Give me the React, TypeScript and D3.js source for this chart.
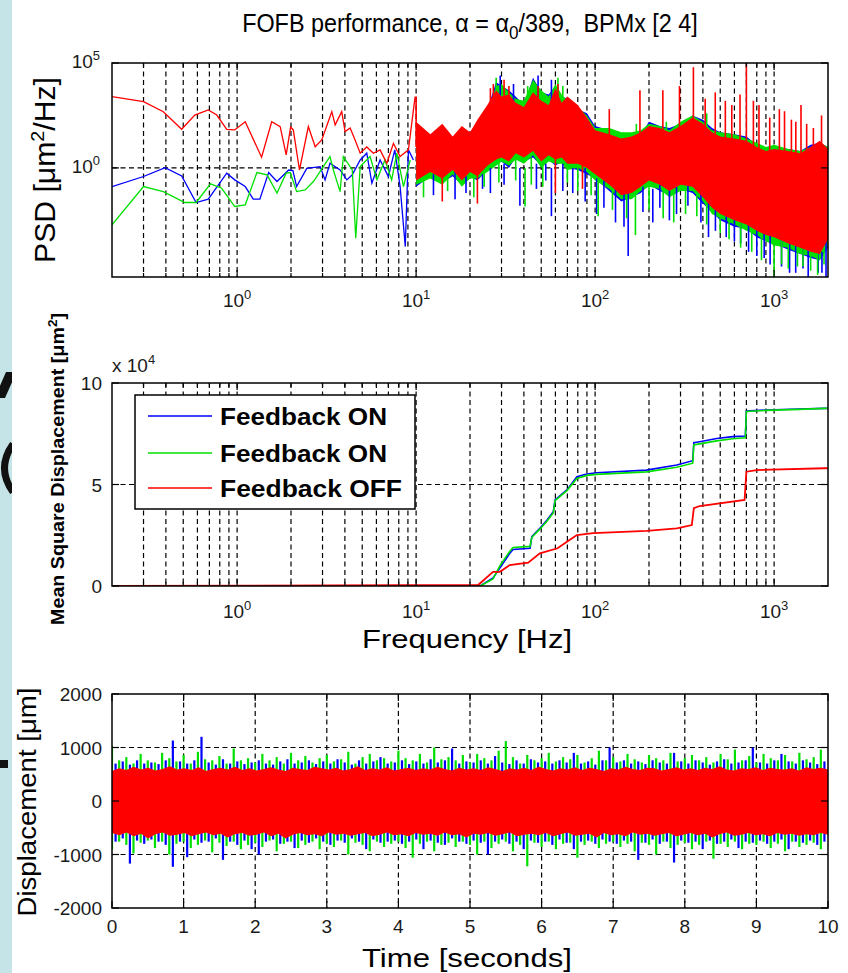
import React from 'react';
import * as d3 from 'd3';

const FONT = '"Liberation Sans", Arial, Helvetica, sans-serif';
const BLUE = '#0000ff';
const GREEN = '#00e000';
const RED = '#ff0000';

// ---------- PSD, low-frequency part (Hz, log10 PSD) ----------
const LF_RED_F = [0.2, 0.3, 0.387, 0.49, 0.58, 0.69, 0.77, 0.875, 0.97, 1.11, 1.37, 1.56, 1.74, 1.88, 1.99, 2.06, 2.23, 2.5, 2.73, 2.97, 3.38, 3.53, 3.84, 4.01, 4.28, 4.56, 4.87, 5.3, 5.77, 6.29, 6.86, 7.47, 8.14, 9.06, 9.87];
const LF_RED_V = [3.4, 3.16, 2.68, 1.84, 2.52, 2.76, 2.52, 1.84, 1.81, 2.2, 0.51, 2.2, 1.97, 0.62, 1.94, 1.81, -0.1, 1.97, 1.01, 1.33, 2.68, 2.05, 2.68, 1.73, 1.9, 1.33, 0.7, 1.0, 0.7, 0.86, 0.22, 1.17, 0.54, 0.86, 3.4];
const LF_BLUE_F = [0.2, 0.3, 0.396, 0.49, 0.59, 0.69, 0.875, 0.97, 1.11, 1.23, 1.34, 1.5, 1.67, 1.94, 2.05, 2.15, 2.45, 2.91, 3.1, 3.3, 3.76, 4.1, 4.4, 4.87, 5.3, 5.66, 6.29, 7.0, 7.6, 8.14, 8.7, 9.06, 9.66];
const LF_BLUE_V = [-0.89, -0.41, 0.01, -0.38, -1.65, -1.49, -0.25, -0.57, -0.89, -1.49, -1.49, -0.22, -0.65, -0.1, -0.13, -0.89, -0.02, 0.06, -0.57, 0.22, -0.1, -0.57, -0.33, 0.38, 0.7, -0.73, 0.38, -0.41, 0.86, -0.89, -3.75, 0.86, 0.38];
const LF_GREEN_F = [0.2, 0.3, 0.387, 0.51, 0.59, 0.71, 0.82, 0.97, 1.11, 1.29, 1.47, 1.67, 1.88, 1.98, 2.15, 2.4, 2.67, 3.3, 3.45, 3.76, 3.92, 4.4, 4.6, 4.87, 5.53, 6.04, 6.7, 7.3, 7.8, 8.5, 9.27];
const LF_GREEN_V = [-2.71, -0.89, -1.13, -1.65, -1.65, -0.76, -0.97, -1.84, -1.76, -0.22, -0.33, -1.2, -0.25, -0.22, -1.13, -1.05, -0.65, 0.54, -0.1, -1.13, 0.54, -0.1, -3.35, 0.06, 0.54, -0.57, 0.38, -0.57, 0.7, -0.89, 0.38];

// ---------- PSD, dense part: envelopes (Hz, log10 PSD) ----------
const HF_F = [10, 12, 14, 16, 18, 20, 22, 25, 28, 30, 33, 36, 40, 45, 50, 55, 60, 65, 70, 80, 90, 100, 120, 140, 160, 180, 200, 230, 260, 300, 350, 400, 450, 500, 600, 700, 800, 900, 1000, 1200, 1400, 1600, 1800, 2000];
const HF_RED_UP = [2.2, 1.6, 2.1, 1.5, 2.0, 1.7, 2.3, 3.0, 3.7, 3.4, 3.5, 3.1, 2.9, 3.6, 3.2, 3.0, 3.8, 3.1, 3.4, 3.0, 2.4, 1.8, 1.6, 1.4, 1.5, 1.7, 2.0, 1.9, 1.7, 2.0, 2.4, 2.1, 1.7, 1.5, 1.4, 1.3, 1.0, 0.8, 0.9, 0.8, 0.7, 1.0, 1.3, 0.9];
const HF_RED_LO = [-0.6, -0.2, -0.5, -0.1, -0.6, -0.2, -0.4, 0.1, 0.4, 0.5, 0.3, 0.7, 0.5, 0.8, 0.3, 0.6, 0.4, 0.5, 0.2, 0.2, 0.0, -0.3, -0.8, -1.3, -1.2, -0.9, -0.6, -0.8, -1.1, -0.8, -0.9, -1.4, -1.9, -2.2, -2.5, -2.7, -3.0, -3.2, -3.3, -3.6, -3.8, -4.0, -4.1, -3.4];
const HF_BLUE_UP = [1.8, 1.2, 1.5, 1.4, 1.3, 1.5, 2.0, 2.8, 4.1, 3.9, 3.7, 3.4, 3.0, 4.3, 3.6, 3.5, 3.9, 3.4, 3.3, 2.8, 2.6, 2.0, 1.8, 1.6, 1.6, 1.6, 2.2, 2.0, 1.9, 2.1, 2.5, 2.3, 1.9, 1.7, 1.6, 1.5, 1.1, 0.9, 1.0, 0.9, 0.8, 1.1, 1.2, 1.0];
const HF_BLUE_LO = [-0.9, -0.4, -0.7, -0.4, -0.8, -0.4, -0.6, -0.1, 0.2, 0.3, 0.0, 0.5, 0.3, 0.5, 0.1, 0.4, 0.1, 0.3, 0.0, -0.1, -0.3, -0.5, -1.1, -1.6, -1.4, -1.2, -0.8, -1.1, -1.3, -1.0, -1.2, -1.7, -2.1, -2.5, -2.8, -2.9, -3.3, -3.5, -3.6, -3.9, -4.1, -4.3, -4.4, -3.8];
const HF_GREEN_UP = [1.6, 1.4, 1.8, 1.2, 1.5, 1.3, 2.2, 2.6, 3.9, 4.0, 3.6, 3.3, 3.2, 4.2, 3.7, 3.4, 4.0, 3.5, 3.2, 2.9, 2.5, 1.9, 1.9, 1.7, 1.7, 1.8, 2.1, 2.0, 1.8, 2.2, 2.5, 2.2, 1.8, 1.7, 1.6, 1.4, 1.2, 1.0, 1.1, 0.9, 0.8, 1.0, 1.2, 1.0];
const HF_GREEN_LO = [-0.8, -0.5, -0.8, -0.3, -0.9, -0.5, -0.5, -0.2, 0.1, 0.3, 0.1, 0.4, 0.2, 0.6, 0.0, 0.3, 0.2, 0.2, -0.1, 0.0, -0.2, -0.6, -1.0, -1.5, -1.5, -1.1, -0.9, -1.0, -1.4, -1.1, -1.1, -1.6, -2.2, -2.4, -2.7, -3.0, -3.2, -3.5, -3.7, -3.8, -4.1, -4.2, -4.4, -3.7];

// spikes: [frequency, base, tip] in log10 PSD
const SPIKES_RED = [[10, 1.0, 3.4], [26, 2.5, 3.8], [27, 2.0, 4.0], [31, 3.0, 4.2], [33, 2.0, 3.9], [48, 3.0, 3.9], [62, 3.0, 4.0], [14, 0.0, -1.6], [22, 0.0, -1.7], [120, 0.5, 2.8], [178, 0.5, 3.7], [239, 0.5, 3.7], [296, 0.5, 3.9], [354, 0.5, 4.8], [412, 0.5, 3.3], [469, 0.5, 3.6], [534, 0.0, 3.2], [580, 0.0, 3.0], [645, 0.0, 3.5], [700, 0.0, 5.3], [766, 0.0, 3.2], [823, 0.0, 3.0], [945, 0.0, 2.4], [1070, 0.0, 2.8], [1143, 0.0, 2.7], [1249, 0.0, 2.3], [1322, 0.0, 2.2], [1413, 0.0, 3.0], [1520, 0.0, 2.1], [1657, 0.0, 1.9], [1840, 0.0, 2.5], [60, 1.0, -1.2], [85, 1.0, -1.0]];
const SPIKES_BLUE = [[29.5, 3.0, 4.4], [35, 3.0, 4.0], [48, 3.0, 4.4], [57, 3.0, 4.2], [12.5, -0.3, -1.3], [16.5, -0.2, -1.5], [19, -0.4, -1.2], [23.5, -0.3, -1.0], [26, 0.0, -1.2], [31, 0.2, -0.8], [38, 0.0, -1.8], [47, 0.2, -1.0], [53, 0.2, -0.6], [57, 0.0, -2.3], [66, 0.2, -1.1], [75, 0.0, -1.2], [88, 0.0, -1.6], [102, -0.5, -2.2], [112, -0.6, -1.9], [130, -1.0, -2.6], [145, -1.2, -2.8], [153, -1.0, -4.2], [185, -0.9, -2.1], [210, -1.0, -2.6], [230, -0.8, -1.9], [260, -1.0, -2.5], [285, -0.9, -2.2], [330, -0.8, -1.8], [390, -1.0, -2.6], [430, -1.5, -3.3], [470, -1.9, -3.0], [540, -2.2, -3.3], [600, -2.0, -3.5], [650, -2.6, -3.6], [720, -2.0, -4.0], [800, -2.9, -4.2], [880, -3.0, -4.3], [950, -3.2, -4.6], [1100, -3.4, -4.7], [1220, -3.0, -5.0], [1320, -3.7, -5.0], [1450, -3.0, -4.8], [1550, -3.9, -5.2], [1762, -3.0, -5.0], [1850, -4.0, -5.0], [1950, -3.0, -5.2]];
const SPIKES_GREEN = [[28, 3.5, 4.3], [42, 3.0, 3.9], [62, 3.0, 4.3], [66, 3.0, 3.9], [170, 1.5, 2.1], [250, 1.5, 2.2], [420, 2.0, 2.6], [11, -0.4, -1.4], [15, -0.2, -1.1], [21, -0.2, -1.4], [24, -0.2, -0.9], [29, 0.3, -0.7], [36, 0.5, -0.6], [40.6, 0.0, -1.84], [44, 0.5, -0.8], [51, 0.2, -0.9], [70, 0.1, -0.7], [80, 0.1, -1.1], [95, -0.1, -1.3], [104, -0.5, -2.3], [125, -0.8, -2.0], [150, -1.2, -2.4], [168, -1.0, -3.2], [200, -0.6, -2.0], [240, -1.0, -2.4], [275, -1.0, -2.6], [320, -1.0, -2.2], [370, -0.9, -2.3], [420, -1.4, -2.7], [500, -2.0, -3.1], [560, -2.3, -3.4], [650, -2.0, -3.8], [750, -2.8, -4.0], [850, -3.0, -4.4], [1000, -3.0, -5.3], [1100, -3.0, -4.6], [1200, -3.6, -4.8], [1350, -3.0, -4.7], [1450, -3.8, -4.7], [1600, -3.0, -4.9], [1750, -4.0, -5.1], [1900, -3.0, -4.6]];

// ---------- Mean square displacement (Hz, x 10^4 um^2) ----------
const MSD_BLUE_F = [0.2, 22.8, 26.9, 29.4, 33.3, 34.8, 43.3, 44.3, 49.1, 53.9, 58.4, 59.7, 69.6, 79.1, 90, 102, 194, 286, 351, 356, 384, 478, 586, 691, 700, 903, 1379, 1910, 2000];
const MSD_BLUE_V = [0, 0, 0.4, 0.9, 1.6, 1.8, 1.86, 2.43, 2.84, 3.25, 3.66, 4.24, 4.73, 5.38, 5.52, 5.58, 5.71, 5.96, 6.17, 7.06, 7.11, 7.27, 7.36, 7.39, 8.62, 8.67, 8.72, 8.75, 8.75];
const MSD_GREEN_F = [0.2, 22.8, 26.9, 29.4, 33.3, 34.8, 43.3, 44.3, 49.1, 53.9, 58.4, 59.7, 69.6, 79.1, 90, 102, 194, 286, 351, 356, 384, 478, 586, 691, 700, 903, 1379, 1910, 2000];
const MSD_GREEN_V = [0, 0, 0.35, 1.0, 1.7, 1.9, 1.95, 2.4, 2.8, 3.2, 3.6, 4.2, 4.7, 5.3, 5.45, 5.5, 5.62, 5.85, 6.05, 6.95, 7.0, 7.15, 7.25, 7.3, 8.6, 8.65, 8.7, 8.75, 8.75];
const MSD_RED_F = [0.2, 22.2, 26.9, 29.4, 33.3, 42.3, 49.1, 61.7, 69.6, 79.1, 97.6, 194, 286, 347, 356, 384, 684, 700, 799, 1910, 2000];
const MSD_RED_V = [0, 0.05, 0.7, 0.7, 1.03, 1.15, 1.61, 1.86, 2.18, 2.51, 2.6, 2.72, 2.84, 3.0, 3.83, 3.94, 4.24, 5.63, 5.71, 5.8, 5.8];

// ---------- Time-domain displacement, envelopes every 0.1 s (um) ----------
const T_BLUE_HI = [700, 740, 680, 760, 700, 720, 690, 760, 1130, 740, 700, 760, 1200, 720, 680, 780, 700, 740, 690, 720, 760, 700, 680, 740, 780, 700, 720, 760, 690, 740, 700, 780, 720, 680, 760, 700, 740, 820, 700, 720, 760, 690, 740, 700, 780, 720, 760, 980, 700, 740, 720, 760, 700, 840, 720, 690, 760, 700, 780, 720, 740, 700, 760, 720, 900, 700, 740, 680, 760, 1000, 720, 760, 700, 740, 690, 760, 720, 700, 900, 740, 700, 760, 720, 680, 740, 780, 700, 720, 760, 1000, 720, 700, 760, 880, 740, 700, 760, 720, 690, 740];
const T_BLUE_LO = [-760, -700, -1170, -740, -800, -720, -760, -820, -1230, -760, -1050, -720, -780, -760, -700, -1100, -760, -820, -740, -900, -1000, -760, -720, -800, -760, -880, -740, -780, -700, -760, -820, -740, -780, -700, -760, -900, -720, -780, -760, -740, -800, -760, -720, -900, -740, -780, -820, -700, -760, -800, -740, -780, -1000, -760, -720, -800, -760, -900, -740, -780, -760, -820, -720, -780, -900, -760, -740, -800, -720, -760, -800, -740, -760, -1100, -780, -720, -800, -760, -1150, -740, -780, -760, -900, -740, -800, -760, -720, -880, -760, -780, -740, -800, -760, -720, -900, -760, -780, -740, -820, -760];
const T_GREEN_HI = [1030, 760, 820, 700, 880, 760, 720, 900, 800, 740, 860, 700, 920, 780, 760, 840, 700, 980, 760, 800, 720, 880, 760, 820, 700, 900, 760, 840, 720, 800, 860, 740, 780, 920, 700, 820, 880, 760, 800, 740, 940, 800, 760, 880, 720, 1000, 780, 820, 760, 860, 720, 880, 800, 760, 940, 1120, 820, 700, 860, 760, 800, 900, 740, 820, 780, 860, 720, 800, 940, 760, 820, 740, 880, 780, 720, 860, 800, 760, 900, 740, 800, 860, 760, 820, 720, 880, 780, 960, 760, 840, 720, 880, 800, 760, 860, 740, 900, 780, 820, 960];
const T_GREEN_LO = [-900, -760, -820, -980, -780, -740, -880, -760, -1000, -800, -760, -880, -820, -740, -960, -780, -840, -760, -900, -820, -780, -860, -740, -940, -800, -760, -880, -820, -760, -900, -800, -860, -740, -1000, -780, -820, -940, -760, -860, -800, -760, -880, -1060, -800, -760, -940, -820, -780, -860, -760, -820, -1000, -760, -880, -800, -760, -940, -820, -1220, -780, -860, -760, -900, -800, -780, -1060, -820, -760, -880, -800, -760, -860, -800, -940, -780, -820, -1000, -760, -880, -820, -780, -900, -820, -760, -1080, -800, -860, -760, -900, -800, -820, -760, -880, -800, -940, -760, -860, -820, -780, -900];
const T_RED_HI = [560, 610, 580, 640, 590, 620, 570, 600, 650, 590, 610, 580, 630, 560, 600, 620, 590, 640, 580, 610, 570, 600, 630, 590, 560, 620, 600, 580, 640, 610, 590, 620, 570, 600, 650, 580, 610, 590, 630, 570, 600, 620, 580, 610, 590, 640, 600, 570, 620, 590, 610, 580, 630, 600, 560, 610, 590, 620, 580, 640, 600, 570, 610, 590, 630, 580, 620, 600, 560, 610, 590, 640, 600, 580, 620, 610, 570, 600, 630, 590, 610, 580, 620, 600, 650, 590, 570, 610, 600, 630, 580, 620, 600, 590, 610, 570, 630, 600, 620, 590];
const T_RED_LO = [-600, -640, -590, -660, -610, -700, -620, -590, -650, -630, -600, -660, -620, -590, -640, -610, -680, -620, -600, -650, -630, -590, -660, -610, -700, -630, -600, -640, -620, -660, -590, -630, -610, -650, -620, -600, -660, -630, -590, -640, -620, -660, -600, -630, -610, -650, -590, -640, -620, -680, -610, -630, -600, -650, -620, -590, -660, -630, -610, -640, -600, -660, -620, -590, -650, -630, -610, -680, -600, -640, -620, -660, -590, -630, -610, -650, -620, -600, -660, -630, -600, -640, -610, -680, -620, -590, -650, -630, -600, -640, -620, -660, -600, -630, -610, -650, -620, -640, -600, -630];

const LOG_MAJOR = [1, 10, 100, 1000];
const LOG_MAJOR_EXP = ['0', '1', '2', '3'];
const PSD_Y_TICKS = [1, 1e5];
const PSD_Y_EXP = ['0', '5'];
const MSD_Y_TICKS = [0, 5, 10];
const TIME_X_TICKS = [0, 1, 2, 3, 4, 5, 6, 7, 8, 9, 10];
const DISP_Y_TICKS = [-2000, -1000, 0, 1000, 2000];
const LEGEND_LABELS = ['Feedback ON', 'Feedback ON', 'Feedback OFF'];
const LEGEND_COLORS = [BLUE, GREEN, RED];

// ---------- layout ----------
const X0 = 112, X1 = 828;
const TOP = { y0: 63, y1: 277 };
const MID = { y0: 383, y1: 586 };
const BOT = { y0: 694, y1: 908 };

const xF = d3.scaleLog().domain([0.2, 2000]).range([X0, X1]);
const yP = d3.scaleLog().domain([Math.pow(10, -5.2), 1e5]).range([TOP.y1, TOP.y0]);
const yM = d3.scaleLinear().domain([0, 10]).range([MID.y1, MID.y0]);
const xT = d3.scaleLinear().domain([0, 10]).range([X0, X1]);
const yT = d3.scaleLinear().domain([-2000, 2000]).range([BOT.y1, BOT.y0]);

const LOG_GRID: number[] = [];
[0.1, 1, 10, 100, 1000].forEach((d) => {
  for (let k = 1; k <= 9; k++) {
    const v = +(k * d).toPrecision(3);
    if (v > 0.2001 && v < 1999) LOG_GRID.push(v);
  }
});

const DASH = '5,3.5';
const TICK_COLOR = '#1a1a1a';

function lineF(F: number[], V: number[]) {
  const pts = F.map((f, i) => [xF(f), yP(Math.pow(10, V[i]))] as [number, number]);
  return d3.line()(pts) || '';
}
function bandF(F: number[], LO: number[], UP: number[]) {
  const a = d3
    .area<number>()
    .x((_, i) => xF(F[i]))
    .y0((_, i) => yP(Math.pow(10, LO[i])))
    .y1((_, i) => yP(Math.pow(10, UP[i])));
  return a(F) || '';
}
function msdLine(F: number[], V: number[]) {
  return d3.line()(F.map((f, i) => [xF(f), yM(V[i])] as [number, number])) || '';
}

function LogXAxis({ y0, y1, labelY }: { y0: number; y1: number; labelY: number }) {
  return (
    <g>
      {LOG_GRID.map((v) => {
        const isMajor = LOG_MAJOR.includes(v);
        const x = xF(v);
        const len = isMajor ? 7 : 4;
        return (
          <g key={v}>
            <line x1={x} x2={x} y1={y1} y2={y1 - len} stroke="#000" strokeWidth={1.2} />
            <line x1={x} x2={x} y1={y0} y2={y0 + len} stroke="#000" strokeWidth={1.2} />
          </g>
        );
      })}
      {LOG_MAJOR.map((v, i) => (
        <text key={v} x={xF(v)} y={labelY} textAnchor="middle" fontSize={19} fill={TICK_COLOR}>
          10<tspan dy={-8} fontSize={13}>{LOG_MAJOR_EXP[i]}</tspan>
        </text>
      ))}
    </g>
  );
}

function LogGrid({ y0, y1 }: { y0: number; y1: number }) {
  return (
    <g>
      {LOG_GRID.map((v) => (
        <line key={v} x1={xF(v)} x2={xF(v)} y1={y0} y2={y1} stroke="#000" strokeWidth={1.2} strokeDasharray={DASH} />
      ))}
    </g>
  );
}

export default function App() {
  const tRed = T_RED_HI.map((_, i) => (i * 10) / (T_RED_HI.length - 1));
  const tBlue = T_BLUE_HI.map((_, i) => 0.05 + i * 0.1);
  const tGreen = T_GREEN_HI.map((_, i) => 0.0 + i * 0.1);
  const redArea =
    d3
      .area<number>()
      .x((t) => xT(t))
      .y0((_, i) => yT(T_RED_LO[i]))
      .y1((_, i) => yT(T_RED_HI[i]))(tRed) || '';

  return (
    <svg width={848} height={973} style={{ display: 'block', position: 'absolute', left: 0, top: 0, fontFamily: FONT }}>
      <defs>
        <clipPath id="cTop"><rect x={X0} y={TOP.y0} width={X1 - X0} height={TOP.y1 - TOP.y0} /></clipPath>
        <clipPath id="cMid"><rect x={X0} y={MID.y0} width={X1 - X0} height={MID.y1 - MID.y0} /></clipPath>
        <clipPath id="cBot"><rect x={X0} y={BOT.y0} width={X1 - X0} height={BOT.y1 - BOT.y0} /></clipPath>
        <clipPath id="cStrip"><rect x={0} y={0} width={12} height={973} /></clipPath>
      </defs>
      <rect x={0} y={0} width={848} height={973} fill="#ffffff" />
      {/* slide strip on the left */}
      <rect x={0} y={0} width={12} height={973} fill="#c5e4e8" />
      <g clipPath="url(#cStrip)" fill="#111">
        <polygon points="6,372 13,372 13,380 5,398 -1,398 -1,388" />
        <path d="M13,444 Q-4,468 13,492" fill="none" stroke="#111" strokeWidth={7} />
        <rect x={0} y={760} width={8} height={8} />
      </g>

      {/* Title */}
      <g transform="translate(470,32) scale(0.9,1)">
        <text x={0} y={0} textAnchor="middle" fontSize={26} xmlSpace="preserve" style={{ whiteSpace: 'pre' }}>
          FOFB performance, α = α<tspan dy={7} fontSize={19}>0</tspan><tspan dy={-7}>/389,  BPMx [2 4]</tspan>
        </text>
      </g>

      {/* ================= TOP: PSD ================= */}
      <rect x={X0} y={TOP.y0} width={X1 - X0} height={TOP.y1 - TOP.y0} fill="#fff" />
      <LogGrid y0={TOP.y0} y1={TOP.y1} />
      <line x1={X0} x2={X1} y1={yP(1)} y2={yP(1)} stroke="#000" strokeWidth={1.2} strokeDasharray={DASH} />
      <g clipPath="url(#cTop)">
        <path d={bandF(HF_F, HF_BLUE_LO, HF_BLUE_UP)} fill={BLUE} />
        <path d={bandF(HF_F, HF_GREEN_LO, HF_GREEN_UP)} fill={GREEN} />
        {SPIKES_BLUE.map((s, i) => (
          <line key={'sb' + i} x1={xF(s[0])} x2={xF(s[0])} y1={yP(Math.pow(10, s[1]))} y2={yP(Math.pow(10, s[2]))} stroke={BLUE} strokeWidth={1.6} />
        ))}
        {SPIKES_GREEN.map((s, i) => (
          <line key={'sg' + i} x1={xF(s[0])} x2={xF(s[0])} y1={yP(Math.pow(10, s[1]))} y2={yP(Math.pow(10, s[2]))} stroke={GREEN} strokeWidth={1.6} />
        ))}
        <path d={lineF(LF_BLUE_F, LF_BLUE_V)} fill="none" stroke={BLUE} strokeWidth={1.3} />
        <path d={lineF(LF_GREEN_F, LF_GREEN_V)} fill="none" stroke={GREEN} strokeWidth={1.3} />
        <path d={bandF(HF_F, HF_RED_LO, HF_RED_UP)} fill={RED} />
        {SPIKES_RED.map((s, i) => (
          <line key={'sr' + i} x1={xF(s[0])} x2={xF(s[0])} y1={yP(Math.pow(10, s[1]))} y2={yP(Math.pow(10, s[2]))} stroke={RED} strokeWidth={1.6} />
        ))}
        <path d={lineF(LF_RED_F, LF_RED_V)} fill="none" stroke={RED} strokeWidth={1.3} />
      </g>
      <rect x={X0} y={TOP.y0} width={X1 - X0} height={TOP.y1 - TOP.y0} fill="none" stroke="#000" strokeWidth={1.5} />
      <LogXAxis y0={TOP.y0} y1={TOP.y1} labelY={307} />
      {PSD_Y_TICKS.map((v, i) => (
        <g key={v}>
          <line x1={X0} x2={X0 + 7} y1={yP(v)} y2={yP(v)} stroke="#000" strokeWidth={1.2} />
          <line x1={X1} x2={X1 - 7} y1={yP(v)} y2={yP(v)} stroke="#000" strokeWidth={1.2} />
          <text x={100} y={yP(v) + 5} textAnchor="end" fontSize={19} fill={TICK_COLOR}>
            10<tspan dy={-8} fontSize={13}>{PSD_Y_EXP[i]}</tspan>
          </text>
        </g>
      ))}
      <text transform="translate(55,170) rotate(-90)" textAnchor="middle" fontSize={29} textLength={186} lengthAdjust="spacingAndGlyphs">
        PSD [μm<tspan dy={-11} fontSize={19}>2</tspan><tspan dy={11}>/Hz]</tspan>
      </text>

      {/* ================= MIDDLE: MSD ================= */}
      <rect x={X0} y={MID.y0} width={X1 - X0} height={MID.y1 - MID.y0} fill="#fff" />
      <LogGrid y0={MID.y0} y1={MID.y1} />
      <line x1={X0} x2={X1} y1={yM(5)} y2={yM(5)} stroke="#000" strokeWidth={1.2} strokeDasharray={DASH} />
      <g clipPath="url(#cMid)">
        <path d={msdLine(MSD_BLUE_F, MSD_BLUE_V)} fill="none" stroke={BLUE} strokeWidth={1.6} />
        <path d={msdLine(MSD_GREEN_F, MSD_GREEN_V)} fill="none" stroke={GREEN} strokeWidth={1.6} />
        <path d={msdLine(MSD_RED_F, MSD_RED_V)} fill="none" stroke={RED} strokeWidth={1.8} />
      </g>
      <rect x={X0} y={MID.y0} width={X1 - X0} height={MID.y1 - MID.y0} fill="none" stroke="#000" strokeWidth={1.5} />
      <LogXAxis y0={MID.y0} y1={MID.y1} labelY={618} />
      {MSD_Y_TICKS.map((v) => (
        <g key={v}>
          <line x1={X0} x2={X0 + 7} y1={yM(v)} y2={yM(v)} stroke="#000" strokeWidth={1.2} />
          <line x1={X1} x2={X1 - 7} y1={yM(v)} y2={yM(v)} stroke="#000" strokeWidth={1.2} />
          <text x={102} y={yM(v) + 7} textAnchor="end" fontSize={19} fill={TICK_COLOR}>{v}</text>
        </g>
      ))}
      <text x={112} y={372} fontSize={19} fill={TICK_COLOR} xmlSpace="preserve" style={{ whiteSpace: 'pre' }}>
        x 10<tspan dy={-8} fontSize={13}>4</tspan>
      </text>
      {/* legend */}
      <rect x={135} y={395} width={280} height={114} fill="#fff" stroke="#000" strokeWidth={1.5} />
      {LEGEND_LABELS.map((lab, i) => {
        const ly = [416, 453, 488][i];
        return (
          <g key={i}>
            <line x1={148} x2={212} y1={ly} y2={ly} stroke={LEGEND_COLORS[i]} strokeWidth={1.5} />
            <text x={220} y={ly + 9} fontSize={23} fontWeight="bold" textLength={i === 2 ? 182 : 167} lengthAdjust="spacingAndGlyphs">{lab}</text>
          </g>
        );
      })}
      <text transform="translate(64,469) rotate(-90)" textAnchor="middle" fontSize={19} fontWeight="bold" textLength={312} lengthAdjust="spacingAndGlyphs">
        Mean Square Displacement [μm<tspan dy={-7} fontSize={13}>2</tspan><tspan dy={7}>]</tspan>
      </text>
      <text x={467} y={648} textAnchor="middle" fontSize={25} textLength={210} lengthAdjust="spacingAndGlyphs">Frequency [Hz]</text>

      {/* ================= BOTTOM: time ================= */}
      <rect x={X0} y={BOT.y0} width={X1 - X0} height={BOT.y1 - BOT.y0} fill="#fff" />
      {TIME_X_TICKS.slice(1, -1).map((v) => (
        <line key={v} x1={xT(v)} x2={xT(v)} y1={BOT.y0} y2={BOT.y1} stroke="#000" strokeWidth={1.2} strokeDasharray={DASH} />
      ))}
      {DISP_Y_TICKS.slice(1, -1).map((v) => (
        <line key={v} x1={X0} x2={X1} y1={yT(v)} y2={yT(v)} stroke="#000" strokeWidth={1.2} strokeDasharray={DASH} />
      ))}
      <g clipPath="url(#cBot)">
        {tBlue.map((t, i) => (
          <line key={'b' + i} x1={xT(t)} x2={xT(t)} y1={yT(T_BLUE_LO[i])} y2={yT(T_BLUE_HI[i])} stroke={BLUE} strokeWidth={2.2} />
        ))}
        {tGreen.map((t, i) => (
          <line key={'g' + i} x1={xT(t)} x2={xT(t)} y1={yT(T_GREEN_LO[i])} y2={yT(T_GREEN_HI[i])} stroke={GREEN} strokeWidth={2.2} />
        ))}
        <path d={redArea} fill={RED} />
      </g>
      <rect x={X0} y={BOT.y0} width={X1 - X0} height={BOT.y1 - BOT.y0} fill="none" stroke="#000" strokeWidth={1.5} />
      {TIME_X_TICKS.map((v) => (
        <g key={v}>
          <line x1={xT(v)} x2={xT(v)} y1={BOT.y1} y2={BOT.y1 - 7} stroke="#000" strokeWidth={1.2} />
          <line x1={xT(v)} x2={xT(v)} y1={BOT.y0} y2={BOT.y0 + 7} stroke="#000" strokeWidth={1.2} />
          <text x={xT(v)} y={933} textAnchor="middle" fontSize={19} fill={TICK_COLOR}>{v}</text>
        </g>
      ))}
      {DISP_Y_TICKS.map((v) => (
        <g key={v}>
          <line x1={X0} x2={X0 + 7} y1={yT(v)} y2={yT(v)} stroke="#000" strokeWidth={1.2} />
          <line x1={X1} x2={X1 - 7} y1={yT(v)} y2={yT(v)} stroke="#000" strokeWidth={1.2} />
          <text x={102} y={yT(v) + 7} textAnchor="end" fontSize={19} fill={TICK_COLOR}>{v}</text>
        </g>
      ))}
      <text transform="translate(36,802) rotate(-90)" textAnchor="middle" fontSize={25} textLength={229} lengthAdjust="spacingAndGlyphs">
        Displacement [μm]
      </text>
      <text x={467} y={967} textAnchor="middle" fontSize={25} textLength={210} lengthAdjust="spacingAndGlyphs">Time [seconds]</text>
    </svg>
  );
}
